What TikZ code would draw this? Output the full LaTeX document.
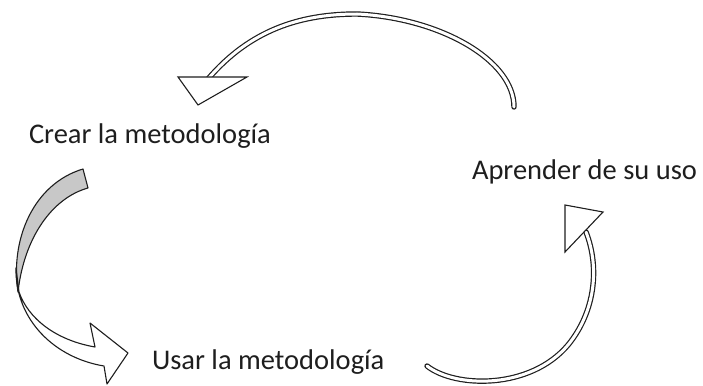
\documentclass[tikz,border=0pt]{standalone}
\usepackage{fontspec}
\setmainfont{Carlito}
\usepackage{tikz}
\usetikzlibrary{positioning}

\definecolor{BackGray}{RGB}{200,200,200}
\definecolor{InkGray}{RGB}{30,30,30}

\begin{document}
\begin{tikzpicture}[x=1pt,y=-1pt]
  \tikzset{LabelStyle/.style = {
    anchor        = base west,
    inner sep     = 0pt,
    outer sep     = 0pt,
    text          = InkGray,
    font          = \fontsize{28.5}{34}\selectfont
    }
  }
  \tikzset{HeadStyle/.style = {
    draw          = InkGray,
    fill          = white,
    line width    = 1.1pt,
    line join     = miter
    }
  }
  \tikzset{RibbonStyle/.style = {
    draw            = InkGray,
    line width      = 1.2pt,
    double          = white,
    double distance = 3pt,
    line cap        = round
    }
  }
  \tikzset{BlockStyle/.style = {
    draw          = InkGray,
    line width    = 1.1pt,
    line join     = round
    }
  }
  \useasboundingbox (0,0) rectangle (703,385);

	\node[LabelStyle](crear) at (29,143) {Crear la metodología};
	\node[LabelStyle](aprender) at (472,179) {Aprender de su uso};
	\node[LabelStyle](usar) at (152,369) {Usar la metodología};

	% top arrow
	\draw[RibbonStyle] (208,79) .. controls (250,30) and (300,14) .. (357,14)
	  .. controls (440,18) and (514,60) .. (514,107);
	\draw[HeadStyle] (178,77) -- (247,77) -- (198,105) -- cycle;

	% right arrow
	\draw[RibbonStyle] (427,366) .. controls (455,388) and (530,390) .. (568,345)
	  .. controls (595,312) and (600,268) .. (586,232);
	\draw[HeadStyle] (565,205) -- (603,212) -- (565,252) -- cycle;

	% left arrow
	\draw[BlockStyle, fill=BackGray] (83,169) -- (88,188)
	  .. controls (52,198) and (24,238) .. (18,292)
	  .. controls (10,240) and (33,184) .. (83,169) -- cycle;
	\draw[BlockStyle, fill=white] (16,268) .. controls (15,320) and (55,358) .. (104,366)
	  -- (107,384) -- (128,353) -- (90,323) -- (95,347)
	  .. controls (55,340) and (28,318) .. (19,292) -- cycle;

  \end{tikzpicture}
\end{document}
